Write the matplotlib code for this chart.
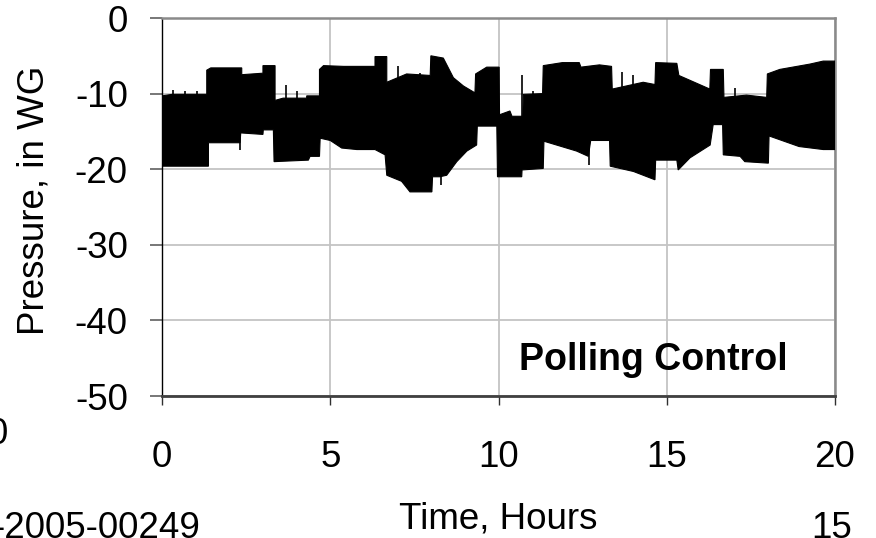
# plot.py: pressure trace under polling control (20 h record)
import numpy as np
import matplotlib
matplotlib.use('Agg')
import matplotlib.pyplot as plt

plt.rcParams['font.family'] = ['Liberation Sans', 'DejaVu Sans']
plt.rcParams['axes.unicode_minus'] = False  # plain hyphen like the original

# upper envelope of the black pressure band (hours, in WG)
t_upper = [0.00, 0.30, 1.33, 1.33, 1.45, 2.37, 2.37, 3.00, 3.00, 3.36, 3.36, 3.60, 4.30, 4.30,
           4.68, 4.68, 4.80, 5.40, 6.33, 6.33, 6.68, 6.68, 7.27, 7.97, 7.99, 8.36, 8.66, 8.96,
           9.30, 9.32, 9.65, 10.02, 10.03, 10.34, 10.40, 10.72, 10.74, 11.31, 11.33, 11.90,
           12.40, 12.45, 13.00, 13.36, 13.38, 14.30, 14.65, 14.67, 15.30, 15.36, 16.28, 16.30,
           16.68, 16.70, 17.37, 17.97, 17.99, 18.36, 19.25, 19.65, 20.00]
p_upper = [-10.3, -10.1, -10.1, -6.9, -6.6, -6.6, -7.5, -7.3, -6.3, -6.3, -10.9, -10.6, -10.6, -10.3,
           -10.3, -6.8, -6.3, -6.4, -6.4, -5.1, -5.1, -8.5, -7.4, -7.6, -5.0, -5.3, -7.9, -9.0,
           -9.9, -7.4, -6.5, -6.5, -12.8, -12.3, -13.0, -13.0, -10.1, -10.0, -6.3, -5.9,
           -5.9, -6.5, -6.2, -6.4, -9.4, -8.5, -8.8, -5.9, -6.0, -7.6, -9.4, -6.8,
           -6.8, -10.5, -10.2, -10.5, -7.4, -6.8, -6.1, -5.7, -5.7]

# lower envelope of the band
t_lower = [0.00, 1.38, 1.38, 2.32, 2.34, 3.00, 3.01, 3.31, 3.33, 4.35, 4.40, 4.68, 4.70, 5.00,
           5.34, 5.79, 6.33, 6.63, 6.68, 7.12, 7.37, 8.02, 8.04, 8.26, 8.46, 8.76, 9.06, 9.35,
           9.37, 9.95, 9.97, 10.69, 10.70, 11.33, 11.35, 12.32, 12.67, 12.74, 13.30, 13.32,
           14.01, 14.65, 14.67, 15.30, 15.34, 15.69, 16.29, 16.38, 16.66, 16.68, 17.18, 17.32,
           18.02, 18.04, 18.93, 19.65, 20.00]
p_lower = [-19.6, -19.6, -16.5, -16.5, -15.2, -15.4, -14.8, -14.8, -19.0, -18.8, -18.3, -18.3, -15.9, -16.2,
           -17.2, -17.4, -17.4, -18.1, -20.8, -21.6, -23.0, -23.0, -21.0, -21.0, -20.8, -19.0, -17.6, -16.8,
           -14.3, -14.3, -21.0, -21.0, -20.1, -19.9, -16.3, -17.6, -18.3, -16.2, -16.2, -19.6,
           -20.3, -21.4, -18.8, -18.8, -20.1, -18.5, -16.8, -14.1, -14.1, -18.1, -18.3, -19.0,
           -19.2, -15.6, -17.0, -17.4, -17.4]

# isolated spikes sticking out of the band
spike_t = [0.34, 0.68, 1.03, 2.32, 3.68, 4.00, 7.02, 7.67, 8.30, 10.69, 11.02, 12.70, 13.66, 13.99, 17.03]
spike_p = [-9.5, -9.6, -9.7, -17.4, -8.8, -9.6, -6.3, -7.3, -22.1, -7.6, -9.6, -19.4, -7.2, -7.6, -9.2]

x_ticks = [0, 5, 10, 15, 20]
y_ticks = [0, -10, -20, -30, -40, -50]

fs = 26.5
fig = plt.figure(figsize=(8.76, 5.38), dpi=100)
ax = fig.add_axes([162 / 876, 1 - 396 / 538, 673 / 876, 378 / 538])

band_t = np.concatenate([t_upper, t_lower[::-1]])
band_p = np.concatenate([p_upper, p_lower[::-1]])
ax.fill(band_t, band_p, color='black', lw=0.8, zorder=3)
ax.vlines(spike_t, spike_p, -14, color='black', lw=1.2, zorder=3)

ax.set_xlim(0, 20)
ax.set_ylim(-50, 0)
ax.set_xticks(x_ticks)
ax.set_yticks(y_ticks)
ax.grid(True, color='#c4c4c4', lw=1.3, zorder=0)
ax.set_axisbelow(True)

ax.spines['left'].set_color('black')
ax.spines['left'].set_linewidth(1.0)
ax.spines['bottom'].set_color('#404040')
ax.spines['bottom'].set_linewidth(2.0)
ax.spines['top'].set_color('#8a8a8a')
ax.spines['top'].set_linewidth(1.8)
ax.spines['right'].set_color('#8a8a8a')
ax.spines['right'].set_linewidth(1.8)

ax.tick_params(axis='y', direction='out', length=8.6, width=1.2, color='#606060',
               labelsize=fs, pad=16)
ax.tick_params(axis='x', direction='out', length=6.5, width=1.0, color='#303030',
               labelsize=fs, pad=25)

ax.set_xlabel('Time, Hours', fontsize=fs)
ax.xaxis.set_label_coords(0.5, -0.325)
ax.xaxis.label.set_va('center')
ax.set_ylabel('Pressure, in WG', fontsize=fs)
ax.yaxis.set_label_coords(-0.19, 0.518)
ax.yaxis.label.set_va('center')

ax.text(18.6, -46.6, 'Polling Control', fontsize=27, fontweight='bold',
        ha='right', va='baseline', zorder=4)

# leftovers from the slide around the chart
fig.text(8 / 876, 1 - 434 / 538, '0', fontsize=fs, ha='right', va='center')
fig.text(200 / 876, 0.0, '-2005-00249', fontsize=fs, ha='right', va='baseline')
fig.text(852 / 876, 0.0, '15', fontsize=fs, ha='right', va='baseline')

fig.savefig('out.png', dpi=100)
plt.close(fig)
